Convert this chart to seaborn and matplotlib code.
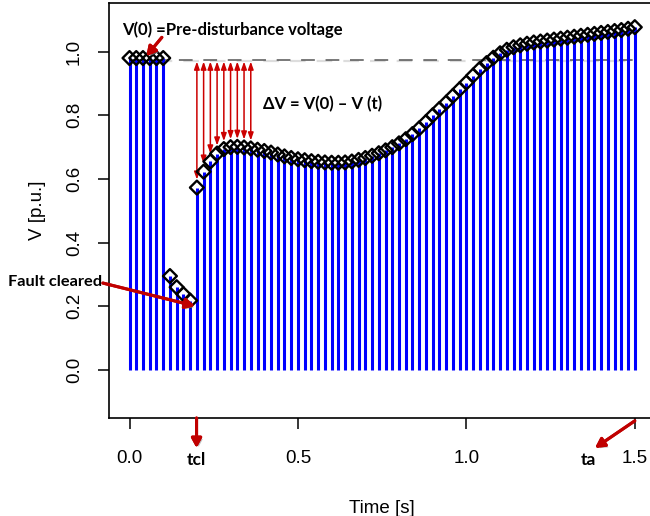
import numpy as np
import matplotlib
matplotlib.use("Agg")
import matplotlib.pyplot as plt
import matplotlib.patheffects as pe
import matplotlib.transforms as mtransforms
import seaborn as sns

# Sampled bus voltage after a disturbance (time step 0.02 s)
time_s = np.round(np.arange(0, 1.5001, 0.02), 2)
voltage_pu = [
    0.980, 0.980, 0.980, 0.980, 0.980, 0.980,          # pre-fault
    0.295, 0.260, 0.238, 0.218,                          # during fault
    0.573, 0.623, 0.655, 0.680, 0.694, 0.700, 0.701, 0.699, 0.696, 0.692,
    0.688, 0.683, 0.677, 0.671, 0.666, 0.662, 0.659, 0.656, 0.654, 0.652,
    0.651, 0.651, 0.652, 0.655, 0.660, 0.666, 0.673, 0.681, 0.690, 0.700,
    0.712, 0.725, 0.741, 0.759, 0.779, 0.800, 0.820, 0.840, 0.861, 0.882,
    0.903, 0.925, 0.946, 0.964, 0.981, 0.995, 1.006, 1.014, 1.020, 1.025,
    1.029, 1.032, 1.035, 1.038, 1.041, 1.044, 1.047, 1.050, 1.053, 1.056,
    1.059, 1.062, 1.065, 1.068, 1.072, 1.077,
]
v0 = 0.975                      # pre-disturbance voltage level
t_clear = 0.20                  # fault clearing time
t_end = 1.50                    # end of observation window
delta_times = [0.20, 0.22, 0.24, 0.26, 0.28, 0.30, 0.32, 0.34, 0.36]

xticks = [0.0, 0.5, 1.0, 1.5]
yticks = [0.0, 0.2, 0.4, 0.6, 0.8, 1.0]

sns.set_style("ticks")
plt.rcParams["font.family"] = ["Liberation Sans", "DejaVu Sans"]
plt.rcParams["text.color"] = "black"
plt.rcParams["axes.labelcolor"] = "black"
plt.rcParams["xtick.color"] = "black"
plt.rcParams["ytick.color"] = "black"
ann_font = ["Lato", "DejaVu Sans"]
dark_red = "#C00000"
shadow = [pe.withSimplePatchShadow(offset=(1.5, -1.5), shadow_rgbFace="#999999", alpha=0.6), pe.Normal()]

df = {"t": time_s, "v": np.array(voltage_pu)}

fig = plt.figure(figsize=(6.5, 5.16), dpi=100)
ax = fig.add_axes([109.3 / 650, 98 / 516, (655 - 109.3) / 650, 415 / 516])

# stems
ax.vlines(df["t"], 0, df["v"], color="#0000FF", lw=2.2, zorder=2)

# pre-disturbance reference line (with a soft shadow)
shift = mtransforms.ScaledTranslation(0.5 / 100, -1.5 / 100, fig.dpi_scale_trans)
ax.plot([0, t_end], [v0, v0], color="#DDDDDD", lw=1.6, dashes=(7, 5), zorder=1.5,
        transform=ax.transData + shift)
ax.plot([0, t_end], [v0, v0], color="#555555", lw=1.1, dashes=(9, 7), zorder=1.6)

# diamonds on each sample
sns.scatterplot(x=df["t"], y=df["v"], marker="D", s=50, facecolors="none",
                edgecolor="black", linewidth=1.7, ax=ax, zorder=4)

# delta-V arrows between reference and the recovering voltage
v_lookup = dict(zip(time_s.tolist(), voltage_pu))
for tt in delta_times:
    ax.annotate("", xy=(tt, v_lookup[tt] + 0.025), xytext=(tt, v0 - 0.006),
                arrowprops=dict(arrowstyle="<|-|>,head_length=0.45,head_width=0.16",
                                color="#CC0000", lw=1.1, shrinkA=0, shrinkB=0), zorder=3)

ax.set_xlim(-0.06, 1.56)
ax.set_ylim(-0.151, 1.153)
ax.set_xticks(xticks)
ax.set_xticklabels([f"{x:.1f}" for x in xticks])
ax.set_yticks(yticks)
ax.set_yticklabels([f"{y:.1f}" for y in yticks], rotation=90, va="center")
ax.tick_params(axis="both", length=8, width=1.1, labelsize=13.5, color="black", labelcolor="black")
ax.tick_params(axis="x", pad=15)
ax.tick_params(axis="y", pad=11)
for s in ax.spines.values():
    s.set_visible(True)
    s.set_linewidth(1.2)
    s.set_color("black")
ax.set_xlabel("Time [s]", fontsize=13.5, labelpad=24, color="black")
ax.set_ylabel("V [p.u.]", fontsize=13.5, labelpad=14, color="black")

# annotations
arrow_kw = dict(arrowstyle="-|>,head_length=0.55,head_width=0.3", color=dark_red, lw=2.2,
                shrinkA=0, shrinkB=0, path_effects=shadow)
ax.annotate("", xy=(0.05, 0.986), xytext=(0.096, 1.045), arrowprops=arrow_kw, annotation_clip=False, zorder=6)
ax.text(-0.023, 1.070, "V(0) =Pre-disturbance voltage", fontsize=12, fontweight="bold",
        family=ann_font, va="center", ha="left", color="black")
ax.text(0.396, 0.835, "\u0394V = V(0) \u2013 V (t)", fontsize=12, fontweight="bold",
        family=ann_font, va="center", ha="left", color="black")

ax.annotate("", xy=(0.194, 0.201), xytext=(-0.079, 0.273), arrowprops=arrow_kw, annotation_clip=False, zorder=6)
ax.text(-0.222, 0.275, "Fault cleared", fontsize=11.8, fontweight="bold", family=ann_font,
        va="center", ha="center", clip_on=False, color="black")

ax.annotate("", xy=(t_clear - 0.001, -0.245), xytext=(t_clear - 0.001, -0.151), arrowprops=arrow_kw,
            annotation_clip=False, zorder=6)
ax.text(t_clear - 0.001, -0.282, "tcl", fontsize=12.5, fontweight="bold", family=ann_font,
        va="center", ha="center", clip_on=False, color="black")

ax.annotate("", xy=(1.382, -0.245), xytext=(t_end, -0.160), arrowprops=arrow_kw, annotation_clip=False, zorder=6)
ax.text(1.361, -0.282, "ta", fontsize=12.5, fontweight="bold", family=ann_font,
        va="center", ha="center", clip_on=False, color="black")

fig.savefig("out.png", dpi=100)
